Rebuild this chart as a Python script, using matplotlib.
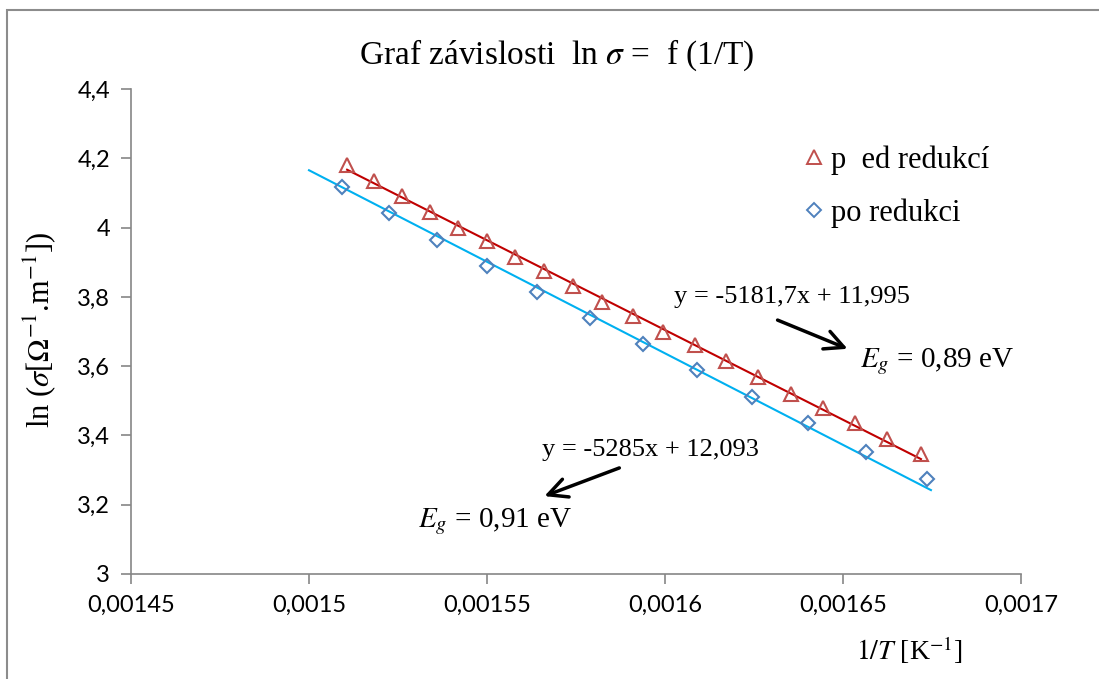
import matplotlib
matplotlib.use("Agg")
import matplotlib.pyplot as plt
from matplotlib.patches import Rectangle
from matplotlib.lines import Line2D

plt.rcParams["mathtext.fontset"] = "stix"
plt.rcParams["font.family"] = ["Liberation Serif", "DejaVu Serif"]

# ---- data ----
x_pred = [0.0015107, 0.0015183, 0.0015261, 0.0015340, 0.0015419, 0.0015500,
          0.0015579, 0.0015660, 0.0015742, 0.0015823, 0.0015910, 0.0015994,
          0.0016084, 0.0016171, 0.0016261, 0.0016354, 0.0016444, 0.0016534,
          0.0016624, 0.0016719]
y_pred = [4.180, 4.135, 4.090, 4.045, 4.000, 3.960, 3.915, 3.875, 3.830, 3.785,
          3.745, 3.700, 3.660, 3.615, 3.570, 3.520, 3.480, 3.435, 3.390, 3.345]

x_po = [0.0015093, 0.0015225, 0.0015360, 0.0015500, 0.0015640, 0.0015789,
        0.0015938, 0.0016090, 0.0016244, 0.0016402, 0.0016565, 0.0016736]
y_po = [4.117, 4.042, 3.964, 3.889, 3.814, 3.739, 3.664, 3.589, 3.511, 3.436,
        3.352, 3.274]

fit_pred = (-5181.7, 11.995)
fit_po = (-5285.0, 12.093)
fit_pred_range = (0.0015107, 0.0016719)
fit_po_range = (0.0015, 0.0016747)

x_ticks = [0.00145, 0.0015, 0.00155, 0.0016, 0.00165, 0.0017]
x_ticklabels = ["0,00145", "0,0015", "0,00155", "0,0016", "0,00165", "0,0017"]
y_ticks = [3.0, 3.2, 3.4, 3.6, 3.8, 4.0, 4.2, 4.4]
y_ticklabels = ["3", "3,2", "3,4", "3,6", "3,8", "4", "4,2", "4,4"]

W, H = 1099, 679
AXIS_GREY = "#868686"
TICK_FONT = ["Lato", "DejaVu Sans"]

fig = plt.figure(figsize=(W / 100, H / 100), dpi=100)
fig.patch.set_facecolor("white")

# outer chart border (cut off at right and bottom)
fig.patches.append(Rectangle((7 / W, -0.05), 1.2, 1 - 10 / H + 0.05,
                             transform=fig.transFigure, fill=False,
                             edgecolor="#8c8c8c", linewidth=1.5))

ax = fig.add_axes([131 / W, 1 - 574 / H, (1021 - 131) / W, (574 - 89) / H])

# trendlines
for (k, q), (x0, x1), col in [(fit_pred, fit_pred_range, "#C00000"),
                              (fit_po, fit_po_range, "#00B0F0")]:
    ax.plot([x0, x1], [k * x0 + q, k * x1 + q], color=col, lw=1.5, zorder=2)

ax.plot(x_pred, y_pred, ls="none", marker="^", ms=10, mfc="none",
        mec="#C0504D", mew=1.5, zorder=3)
ax.plot(x_po, y_po, ls="none", marker="D", ms=7, mfc="none",
        mec="#4F81BD", mew=1.5, zorder=3)

ax.set_xlim(0.00145, 0.0017)
ax.set_ylim(3.0, 4.4)
ax.set_xticks(x_ticks)
ax.set_xticklabels(x_ticklabels, family=TICK_FONT, fontsize=17)
ax.set_yticks(y_ticks)
ax.set_yticklabels(y_ticklabels, family=TICK_FONT, fontsize=17)
ax.tick_params(direction="out", length=7, width=1.2, color=AXIS_GREY, pad=8)
for s in ["top", "right"]:
    ax.spines[s].set_visible(False)
for s in ["left", "bottom"]:
    ax.spines[s].set_color(AXIS_GREY)
    ax.spines[s].set_linewidth(1.2)

# legend
handles = [
    Line2D([], [], ls="none", marker="^", ms=10, mfc="none", mec="#C0504D", mew=1.4),
    Line2D([], [], ls="none", marker="D", ms=7, mfc="none", mec="#4F81BD", mew=1.4),
]
ax.legend(handles, ["p  ed redukcí", "po redukci"], loc="upper left",
          bbox_to_anchor=(0.728, 0.94), frameon=False, fontsize=22,
          handlelength=0.5, handletextpad=0.3, labelspacing=0.75)

# fit annotations
ax.text(0.0016357, 3.800, "y = -5181,7x + 11,995", fontsize=19,
        ha="center", va="center")
ax.annotate("", xy=(0.0016520, 3.647), xytext=(0.0016309, 3.736),
            arrowprops=dict(arrowstyle="->", lw=2.5, color="black",
                            mutation_scale=34))
ax.text(0.0016548, 3.612, r"$E_g$ = 0,89 eV", fontsize=21,
        ha="left", va="center")

ax.text(0.0015958, 3.358, "y = -5285x + 12,093", fontsize=19,
        ha="center", va="center")
ax.annotate("", xy=(0.0015654, 3.222), xytext=(0.0015879, 3.309),
            arrowprops=dict(arrowstyle="->", lw=2.5, color="black",
                            mutation_scale=34))
ax.text(0.0015522, 3.150, r"$E_g$ = 0,91 eV", fontsize=21,
        ha="center", va="center")

# titles / axis labels
fig.text(557 / W, 1 - 55 / H, r"Graf závislosti  ln $\sigma$ =  f (1/T)",
         fontsize=24, ha="center", va="center")
fig.text(40 / W, 1 - 330 / H, r"ln ($\sigma$[$\Omega^{-1}$.m$^{-1}$])",
         fontsize=22, rotation=90, ha="center", va="center")
fig.text(910 / W, 1 - 650 / H, r"$\mathit{1/T}$ [K$^{-1}$]",
         fontsize=20, ha="center", va="center")

fig.savefig("out.png", dpi=100)
